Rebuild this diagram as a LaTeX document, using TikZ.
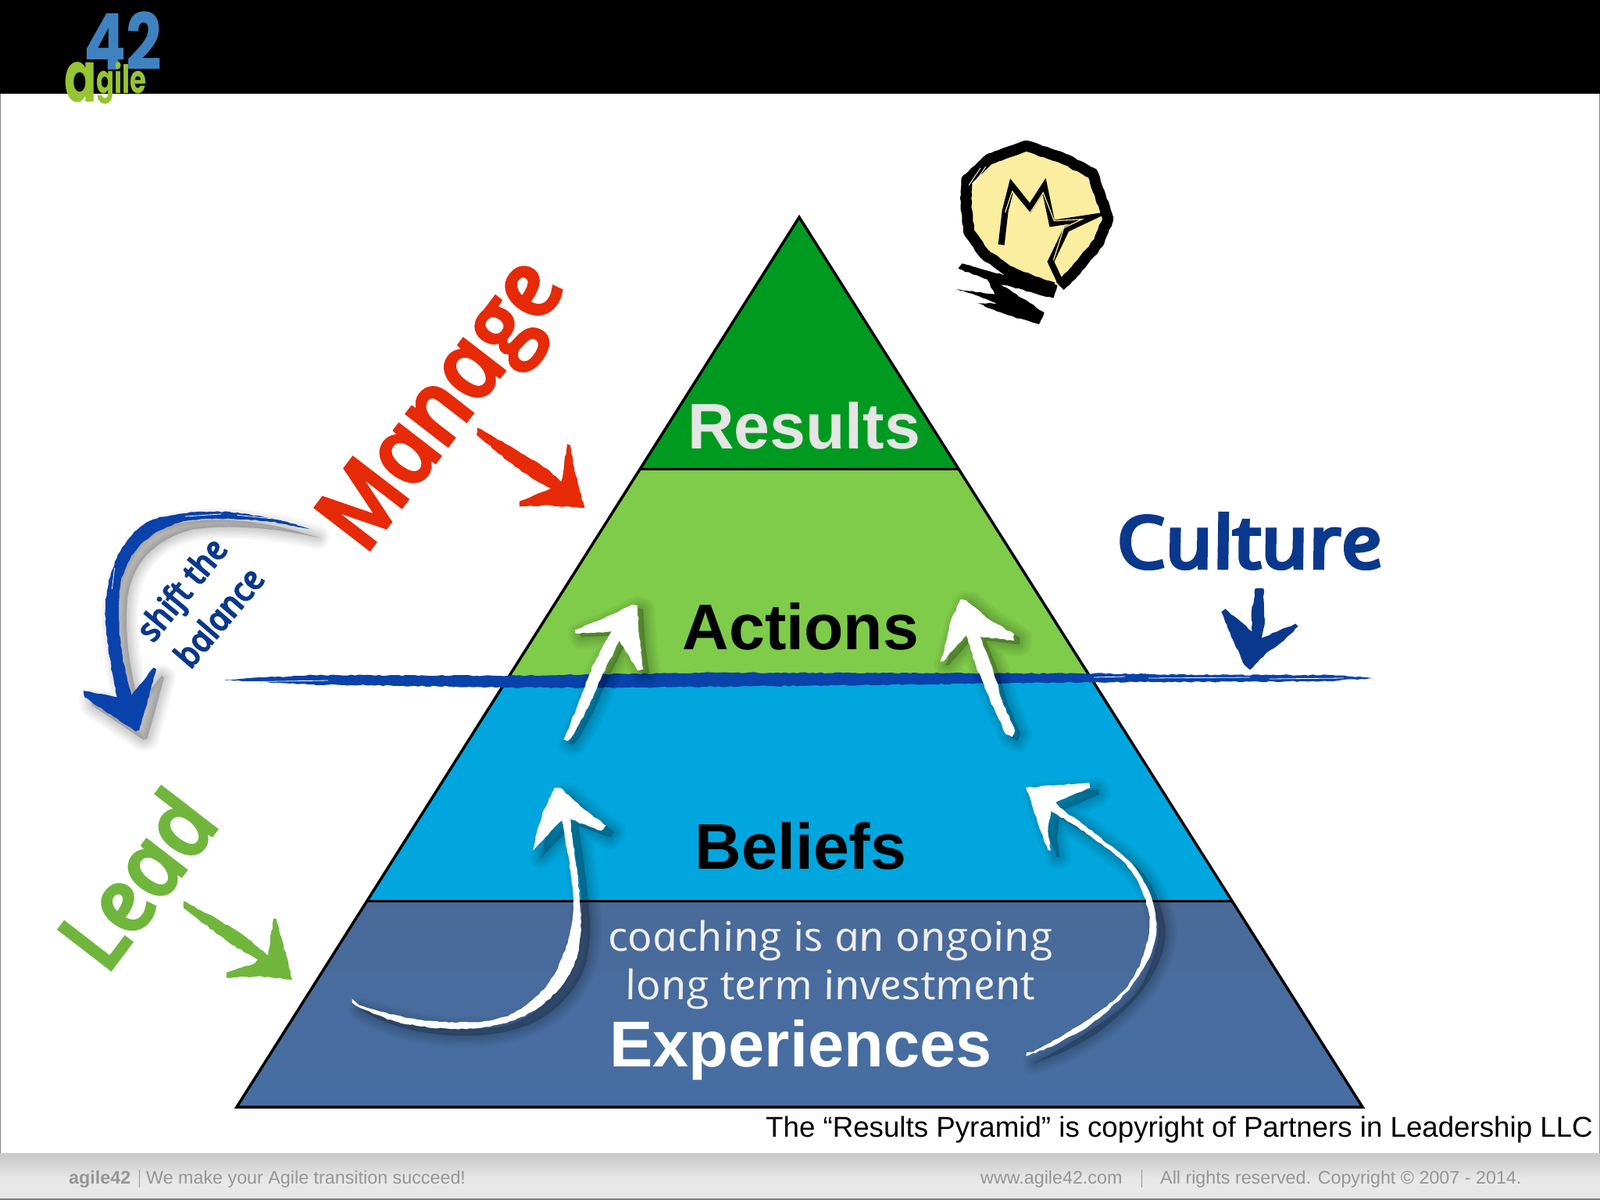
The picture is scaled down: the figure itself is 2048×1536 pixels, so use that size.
\documentclass[tikz,border=0pt]{standalone}
\usepackage{fontspec}
\setmainfont{Liberation Sans}
\newfontfamily\hand{Open Sans}[ItalicFeatures={FakeSlant=-0.2}]
\newfontfamily\handheavy{Open Sans}[ItalicFeatures={FakeSlant=-0.2,FakeBold=5}]
\newfontfamily\logofont{Poppins}
\usetikzlibrary{decorations.pathmorphing}
\definecolor{tierA}{RGB}{0,154,32}
\definecolor{tierB}{RGB}{127,203,74}
\definecolor{tierC}{RGB}{0,166,221}
\definecolor{tierDa}{RGB}{74,106,153}
\definecolor{tierDb}{RGB}{70,110,163}
\definecolor{redink}{RGB}{230,42,8}
\definecolor{greenink}{RGB}{112,182,60}
\definecolor{blueink}{RGB}{8,66,170}
\definecolor{navyink}{RGB}{10,56,140}
\definecolor{lampy}{RGB}{251,238,160}
\definecolor{logoblue}{RGB}{63,130,192}
\definecolor{logogreen}{RGB}{150,196,50}
\definecolor{foot}{RGB}{150,150,152}
\tikzset{
  brush/.style={decorate,decoration={random steps,segment length=5pt,amplitude=.8pt}},
  inkfill/.style={fill=#1,brush},
  tierlabel/.style={anchor=base,font=\fontsize{82.5}{90}\selectfont\bfseries},
  handlabel/.style={font=\fontsize{#1}{#1}\selectfont\handheavy\itshape,inner sep=0pt},
  thinhand/.style={font=\fontsize{#1}{#1}\selectfont\hand\itshape,inner sep=0pt},
  footlabel/.style={anchor=base west,inner sep=0pt,text=foot,font=\fontsize{23.3}{26}\selectfont},
  tieredge/.style={line width=3pt,draw=black},
}
\newcommand\softshade[2]{\foreach \w in {30,24,18,13,8,3}{\path[shift={(#1)},fill=black,draw=black,line join=round,fill opacity=.035,draw opacity=.035,line width=\w pt] #2;}}
\begin{document}
\begin{tikzpicture}[x=1pt,y=-1pt]
\useasboundingbox (0,0) rectangle (2048,1536);
\fill[white] (0,0) rectangle (2048,1536);
% header and footer
\fill[black] (0,0) rectangle (2048,120);
\draw[gray,line width=1.5pt] (.5,120) -- (.5,1476) (2047.5,120) -- (2047.5,1476);
\shade[top color=white!78!black,bottom color=white!91!black] (0,1476) rectangle (2048,1510);
\fill[white!91!black] (0,1510) rectangle (2048,1534);
\fill[gray] (0,1534) rectangle (2048,1536);
% logo
\node[inner sep=0pt,text=logoblue] (n42) at (157,52) {\logofont\bfseries\fontsize{100}{100}\selectfont\scalebox{.8}[1]{42}};
\node[inner sep=0pt,anchor=base west,text=logogreen] (nagile) at (82,131) {\logofont\bfseries\fontsize{90}{90}\selectfont\scalebox{.68}[1]{a}\fontsize{50}{50}\selectfont\raisebox{11pt}{\scalebox{.68}[1]{gile}}};
% pyramid
\fill[tierA] (1023,278) -- (1227,600) -- (820,600) -- cycle;
\fill[tierB] (820,600) -- (1227,600) -- (1397,869) -- (649,869) -- cycle;
\fill[tierC] (649,869) -- (1397,869) -- (1577,1153) -- (470,1153) -- cycle;
\shade[top color=tierDa,bottom color=tierDb] (470,1153) -- (1577,1153) -- (1744,1417) -- (303,1417) -- cycle;
\draw[tieredge] (820,600) -- (1227,600) (470,1153) -- (1577,1153);
\draw[line width=3.5pt,line join=miter] (1023,278) -- (1744,1417) -- (303,1417) -- cycle;
% tier labels
\node[tierlabel,text=white!90!black] (results) at (1029,574) {Results};
\node[tierlabel] (actions) at (1025,831) {Actions};
\node[tierlabel] (beliefs) at (1025,1112) {Beliefs};
\node[tierlabel,text=white,font=\fontsize{83}{90}\selectfont\bfseries] (experiences) at (1025,1365) {Experiences};
% culture line
\fill[inkfill=blueink] (287,870) -- (400,864) -- (650,865) -- (900,861) -- (1400,862) -- (1560,864) -- (1705,864) -- (1757,868) -- (1700,872) -- (1500,873) -- (1400,873) -- (1100,877) -- (800,880) -- (650,880) -- (400,876) -- (320,872) -- cycle;
\draw[white,line width=.8pt] (1400,867) -- (1440,866) (1470,868) -- (1600,867) (1625,869) -- (1720,868) (300,873) -- (420,871);
% white arrows, upper pair
\begin{scope}[shift={(650,740)},xscale=.5102,yscale=.3333]
\def\arrowpath{(140,620) -- (150,625) -- (165,600) -- (200,500) -- (235,380) -- (280,240) -- (325,355) -- (340,350) -- (330,230) -- (325,105) -- (312,102) -- (240,155) -- (168,200) -- (170,212) -- (260,205) -- (215,330) -- (175,490) -- cycle}
\softshade{14,14}{\arrowpath}
\fill[inkfill=white] \arrowpath;
\def\arrowpath{(1265,610) -- (1272,585) -- (1240,470) -- (1215,340) -- (1185,225) -- (1270,240) -- (1270,215) -- (1200,150) -- (1150,85) -- (1135,82) -- (1110,170) -- (1095,280) -- (1085,320) -- (1092,320) -- (1150,220) -- (1175,340) -- (1210,470) -- (1250,600) -- cycle}
\softshade{14,14}{\arrowpath}
\fill[inkfill=white] \arrowpath;
\end{scope}
% white arrows, lower pair
\begin{scope}[shift={(440,980)},xscale=.7015,yscale=.3333]
\def\arrowpath{plot[smooth,tension=.6] coordinates {(15,910) (120,970) (230,985) (310,950) (375,830) (412,650) (418,480) (398,210)} -- (345,325) -- (350,270) -- (365,170) -- (385,85) -- (395,85) -- (440,170) -- (478,230) -- (470,250) -- (412,205) -- plot[smooth,tension=.6] coordinates {(412,205) (428,450) (432,650) (412,800) (355,930) (280,995) (190,1010) (100,985) (30,930)} -- cycle}
\softshade{16,26}{\arrowpath}
\fill[inkfill=white] \arrowpath;
\def\arrowpath{plot[smooth,tension=.6] coordinates {(1245,1115) (1340,1000) (1425,860) (1463,700) (1468,560) (1435,400) (1362,270) (1290,175)} -- (1285,250) -- (1290,325) -- (1285,325) -- (1265,210) -- (1245,85) -- (1300,75) -- (1360,65) -- (1362,85) -- (1295,145) -- plot[smooth,tension=.6] coordinates {(1295,145) (1370,260) (1445,395) (1480,560) (1476,700) (1436,850) (1365,990) (1290,1080)} -- cycle}
\softshade{16,26}{\arrowpath}
\fill[inkfill=white] \arrowpath;
\end{scope}
% handwritten labels in the base tier
\node[thinhand=52,text=white!94!black] (coachA) at (1066,1204) {\scalebox{1.08}[1]{coaching is an ongoing}};
\node[thinhand=52,text=white!94!black] (coachB) at (1066,1266) {\scalebox{1.08}[1]{long term investment}};
% Manage
\node[handlabel=120,text=redink,rotate=53] (manage) at (576,518) {Manage};
\begin{scope}[shift={(400,300)},scale=.3333]
\fill[inkfill=redink] (632,742) -- (700,780) -- (800,840) -- (900,900) -- (955,950) -- (965,900) -- (978,805) -- (990,810) -- (1000,880) -- (1020,960) -- (1045,1050) -- (900,1040) -- (795,1045) -- (795,1025) -- (880,990) -- (915,975) -- (840,935) -- (750,870) -- (630,770) -- cycle;
\end{scope}
% shift arrow, Lead
\begin{scope}[shift={(50,620)},xscale=.3333,yscale=.4464]
\def\arrowpath{(1040,128) .. controls (860,85) and (640,55) .. (440,100) .. controls (330,135) and (270,230) .. (255,340) .. controls (250,420) and (275,520) .. (300,610) -- (170,592) -- (175,610) -- (370,708) -- (385,705) -- (410,640) -- (450,530) -- (440,525) -- (355,605) .. controls (320,520) and (295,400) .. (310,300) .. controls (330,190) and (430,130) .. (560,105) .. controls (700,90) and (870,100) .. (1040,128) -- cycle}
\softshade{30,24}{\arrowpath}
\fill[inkfill=blueink] \arrowpath;
\draw[white,line width=.8pt] (560,92) -- (700,85) (760,88) -- (920,100) (290,240) -- (280,300);
\fill[inkfill=greenink] (555,1195) -- (650,1232) -- (780,1290) -- (880,1350) -- (900,1245) -- (910,1245) -- (935,1310) -- (972,1420) -- (850,1410) -- (720,1415) -- (720,1400) -- (830,1372) -- (840,1362) -- (740,1320) -- (555,1215) -- cycle;
\end{scope}
\node[handlabel=43,text=navyink,rotate=51] (shiftthe) at (237,755) {shift the};
\node[handlabel=43,text=navyink,rotate=50] (balance) at (281,788) {balance};
\node[handlabel=115,text=greenink,rotate=53] (lead) at (178,1120) {Lead};
% Culture
\node[handlabel=92,text=navyink,anchor=base] (culture) at (1605,727) {\scalebox{1.15}[1]{Culture}};
\begin{scope}[shift={(1380,620)},scale=.3333]
\fill[inkfill=navyink] (680,400) -- (712,400) -- (716,540) -- (705,590) -- (835,535) -- (845,545) -- (790,600) -- (720,650) -- (660,712) -- (640,695) -- (600,610) -- (550,490) -- (565,478) -- (610,515) -- (668,565) -- (665,500) -- cycle;
\end{scope}
% lamp
\begin{scope}[shift={(1180,150)},scale=.3333]
\fill[lampy] (400,118) -- (545,165) -- (640,210) -- (715,385) -- (680,470) -- (590,585) -- (530,650) -- (430,640) -- (330,590) -- (240,525) -- (180,440) -- (170,310) -- (175,240) -- (260,165) -- cycle;
\draw[black,line width=14pt,line join=round,brush] (530,648) -- (590,590) -- (680,480) -- (715,390) -- (655,215) -- (545,160) -- (400,110) -- (260,160) -- (172,240) -- (168,310) -- (180,440) -- (240,525) -- (330,590) -- (430,632) -- (505,655);
\draw[white,line width=.9pt] (180,262) -- (225,195) (195,265) -- (245,190);
\draw[black,line width=8pt,line join=miter] (305,490) -- (320,360) -- (345,262) -- (415,350) -- (470,265) -- (500,408) -- (650,385) -- (555,430) -- (495,555) -- (530,630);
\draw[lampy,line width=1.2pt,line join=miter] (320,365) -- (347,285) -- (415,368) -- (466,290) -- (508,398) -- (615,392) -- (545,425) -- (505,550);
\fill[inkfill=black] (140,582) -- (155,562) -- (310,605) -- (520,645) -- (505,695) -- (280,635) -- cycle;
\fill[inkfill=black] (250,622) -- (300,640) -- (470,750) -- (450,795) -- (330,760) -- (215,715) -- (290,715) -- (135,660) -- (280,680) -- cycle;
\end{scope}
% credits
\node[anchor=base west,inner sep=0pt,font=\fontsize{36.7}{40}\selectfont] (credit) at (980,1455) {The “Results Pyramid” is copyright of Partners in Leadership LLC};
\node[footlabel,font=\fontsize{23.3}{26}\selectfont\bfseries] (fa) at (88,1515) {agile42};
\draw[foot,line width=1pt] (178,1497) -- (178,1520);
\node[footlabel] (fb) at (187,1515) {We make your Agile transition succeed!};
\node[footlabel] (fc) at (1255,1515) {www.agile42.com};
\draw[foot,line width=1pt] (1461,1497) -- (1461,1520);
\node[footlabel] (fd) at (1485,1515) {All rights reserved. Copyright © 2007 - 2014.};
\end{tikzpicture}
\end{document}
